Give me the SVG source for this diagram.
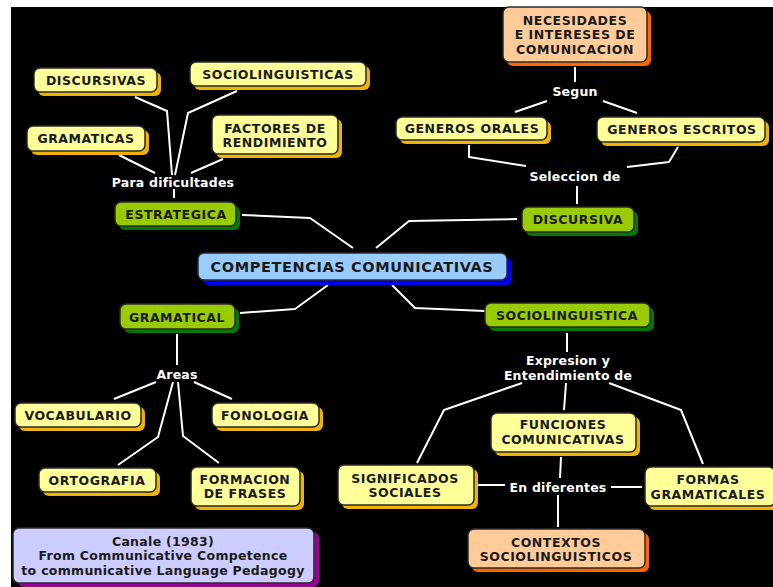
<svg xmlns="http://www.w3.org/2000/svg" width="773" height="587" viewBox="0 0 773 587">
<style>
text{font-family:"DejaVu Sans","Verdana",sans-serif;font-weight:bold;text-anchor:middle;dominant-baseline:central}
.t{font-size:12.5px;fill:#1a1a1a;letter-spacing:0.55px}
.tc{font-size:14.5px;fill:#1a1a1a;letter-spacing:0.6px}
.tv{font-size:12.5px;fill:#1a1a1a;letter-spacing:0.3px}
.lb{font-size:12.5px;fill:#ffffff;letter-spacing:0.2px}
.box{stroke:#2a2a2a;stroke-width:1.5}
.y .box{fill:#FFFF99}.y .sh{fill:#F0B400}
.g .box{fill:#99CC00}.g .sh{fill:#007A00}
.b .box{fill:#99CCFF}.b .sh{fill:#0000EE}
.p .box{fill:#FFCC99}.p .sh{fill:#FF6600}
.v .box{fill:#CCCCFF}.v .sh{fill:#990099}
#connectors polyline{fill:none;stroke:#FFFFFF;stroke-width:2;stroke-linejoin:round}
</style>
<rect x="0" y="0" width="773" height="587" fill="#ffffff"/>
<rect x="11" y="7" width="762" height="580" fill="#000000"/>
<g id="connectors">
<polyline points="135,97 167,111 172,175"/>
<polyline points="237,91 188,113 175,175"/>
<polyline points="119,155 155,173"/>
<polyline points="223,159 191,173"/>
<polyline points="174,189 174,198"/>
<polyline points="242,215 310,218 353,248"/>
<polyline points="517,219 409,221 376,248"/>
<polyline points="240,313 295,309 328,285"/>
<polyline points="392,285 415,308 485,311"/>
<polyline points="575,67 575,82"/>
<polyline points="547,101 515,112"/>
<polyline points="603,101 637,113"/>
<polyline points="469,145 469,157 526,166"/>
<polyline points="678,147 669,162 627,167"/>
<polyline points="577,186 577,204"/>
<polyline points="177,334 177,365"/>
<polyline points="156,382 114,399"/>
<polyline points="194,382 232,399"/>
<polyline points="173,382 158,437 118,465"/>
<polyline points="178,382 183,436 219,463"/>
<polyline points="567,333 567,352"/>
<polyline points="522,383 444,410 417,463"/>
<polyline points="566,383 564,410"/>
<polyline points="609,383 681,410 703,464"/>
<polyline points="561,457 560,478"/>
<polyline points="558,495 558,527"/>
<polyline points="478,485 505,485"/>
<polyline points="611,487 642,487"/>
</g>
<g id="labels">
<text class="lb" x="173" y="182">Para dificultades</text>
<text class="lb" x="575" y="91">Segun</text>
<text class="lb" x="575" y="176">Seleccion de</text>
<text class="lb" x="177" y="374">Areas</text>
<text class="lb" x="568" y="360">Expresion y</text>
<text class="lb" x="568" y="375">Entendimiento de</text>
<text class="lb" x="558" y="487">En diferentes</text>
</g>
<g id="n-necesidades" class="p"><rect class="sh" x="507" y="11" width="144" height="55" rx="6"/><rect class="box" x="503" y="7" width="144" height="55" rx="6"/><text class="t" x="575" y="20">NECESIDADES</text><text class="t" x="575" y="34">E INTERESES DE</text><text class="t" x="575" y="49">COMUNICACION</text></g>
<g id="n-generos-orales" class="y"><rect class="sh" x="400" y="121" width="151" height="23" rx="6"/><rect class="box" x="396" y="117" width="151" height="23" rx="6"/><text class="t" x="472" y="128">GENEROS ORALES</text></g>
<g id="n-generos-escritos" class="y"><rect class="sh" x="601" y="121" width="168" height="25" rx="6"/><rect class="box" x="597" y="117" width="168" height="25" rx="6"/><text class="t" x="682" y="129">GENEROS ESCRITOS</text></g>
<g id="n-discursiva" class="g"><rect class="sh" x="526" y="211" width="112" height="25" rx="6"/><rect class="box" x="522" y="207" width="112" height="25" rx="6"/><text class="t" x="578" y="219">DISCURSIVA</text></g>
<g id="n-discursivas" class="y"><rect class="sh" x="38" y="72" width="123" height="24" rx="6"/><rect class="box" x="34" y="68" width="123" height="24" rx="6"/><text class="t" x="96" y="80">DISCURSIVAS</text></g>
<g id="n-sociolinguisticas" class="y"><rect class="sh" x="194" y="66" width="176" height="24" rx="6"/><rect class="box" x="190" y="62" width="176" height="24" rx="6"/><text class="t" x="278" y="74">SOCIOLINGUISTICAS</text></g>
<g id="n-gramaticas" class="y"><rect class="sh" x="31" y="130" width="118" height="25" rx="6"/><rect class="box" x="27" y="126" width="118" height="25" rx="6"/><text class="t" x="86" y="138">GRAMATICAS</text></g>
<g id="n-factores" class="y"><rect class="sh" x="216" y="119" width="126" height="39" rx="6"/><rect class="box" x="212" y="115" width="126" height="39" rx="6"/><text class="t" x="275" y="128">FACTORES DE</text><text class="t" x="275" y="142">RENDIMIENTO</text></g>
<g id="n-estrategica" class="g"><rect class="sh" x="119" y="206" width="121" height="24" rx="6"/><rect class="box" x="115" y="202" width="121" height="24" rx="6"/><text class="t" x="176" y="214">ESTRATEGICA</text></g>
<g id="n-center" class="b"><rect class="sh" x="203" y="258" width="309" height="27" rx="6"/><rect class="box" x="198" y="253" width="309" height="27" rx="6"/><text class="tc" x="352" y="267">COMPETENCIAS COMUNICATIVAS</text></g>
<g id="n-gramatical" class="g"><rect class="sh" x="124" y="308" width="115" height="25" rx="6"/><rect class="box" x="120" y="304" width="115" height="25" rx="6"/><text class="t" x="177" y="317">GRAMATICAL</text></g>
<g id="n-sociolinguistica" class="g"><rect class="sh" x="489" y="307" width="165" height="24" rx="6"/><rect class="box" x="485" y="303" width="165" height="24" rx="6"/><text class="t" x="567" y="315">SOCIOLINGUISTICA</text></g>
<g id="n-vocabulario" class="y"><rect class="sh" x="19" y="407" width="126" height="24" rx="6"/><rect class="box" x="15" y="403" width="126" height="24" rx="6"/><text class="t" x="78" y="415">VOCABULARIO</text></g>
<g id="n-fonologia" class="y"><rect class="sh" x="216" y="407" width="107" height="24" rx="6"/><rect class="box" x="212" y="403" width="107" height="24" rx="6"/><text class="t" x="265" y="415">FONOLOGIA</text></g>
<g id="n-ortografia" class="y"><rect class="sh" x="43" y="472" width="117" height="24" rx="6"/><rect class="box" x="39" y="468" width="117" height="24" rx="6"/><text class="t" x="97" y="480">ORTOGRAFIA</text></g>
<g id="n-formacion" class="y"><rect class="sh" x="195" y="471" width="109" height="39" rx="6"/><rect class="box" x="191" y="467" width="109" height="39" rx="6"/><text class="t" x="245" y="479">FORMACION</text><text class="t" x="245" y="493">DE FRASES</text></g>
<g id="n-significados" class="y"><rect class="sh" x="342" y="469" width="136" height="40" rx="6"/><rect class="box" x="338" y="465" width="136" height="40" rx="6"/><text class="t" x="405" y="478">SIGNIFICADOS</text><text class="t" x="405" y="492">SOCIALES</text></g>
<g id="n-funciones" class="y"><rect class="sh" x="495" y="417" width="145" height="39" rx="6"/><rect class="box" x="491" y="413" width="145" height="39" rx="6"/><text class="t" x="563" y="424">FUNCIONES</text><text class="t" x="563" y="439">COMUNICATIVAS</text></g>
<g id="n-formas" class="y"><rect class="sh" x="649" y="471" width="130" height="39" rx="6"/><rect class="box" x="645" y="467" width="130" height="39" rx="6"/><text class="t" x="708" y="479">FORMAS</text><text class="t" x="708" y="494">GRAMATICALES</text></g>
<g id="n-contextos" class="p"><rect class="sh" x="472" y="533" width="177" height="39" rx="6"/><rect class="box" x="468" y="529" width="177" height="39" rx="6"/><text class="t" x="556" y="542">CONTEXTOS</text><text class="t" x="556" y="556">SOCIOLINGUISTICOS</text></g>
<g id="n-canale" class="v"><rect class="sh" x="18" y="532" width="301" height="55" rx="6"/><rect class="box" x="13" y="528" width="301" height="55" rx="6"/><text class="tv" x="163" y="541">Canale (1983)</text><text class="tv" x="163" y="555">From Communicative Competence</text><text class="tv" x="163" y="570">to communicative Language Pedagogy</text></g>
</svg>
